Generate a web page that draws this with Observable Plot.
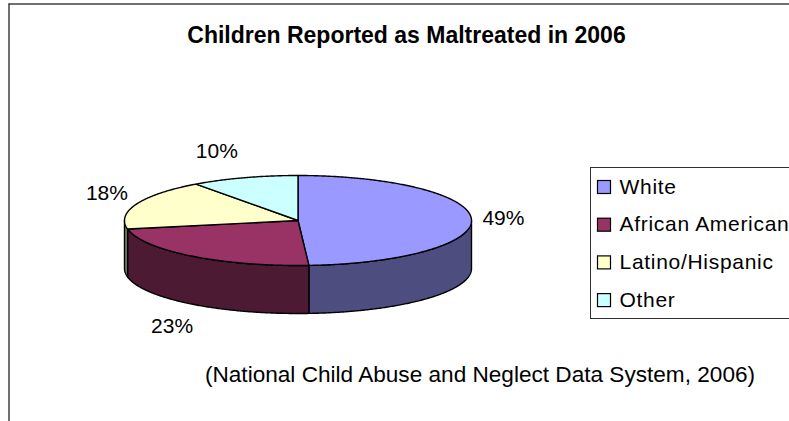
<!DOCTYPE html>
<html>
<head>
<meta charset="utf-8">
<script src="https://cdn.jsdelivr.net/npm/d3@7"></script>
<script src="https://cdn.jsdelivr.net/npm/@observablehq/plot@0.6"></script>
<style>
  html, body { margin: 0; padding: 0; background: #fff; overflow: hidden; }
  #chart svg { display: block; }
  #chart g.legend-text text { letter-spacing: 0.7px; }
</style>
</head>
<body>
<div id="chart"></div>
<script>
// ---- data ----
const categories = ["White", "African American", "Latino/Hispanic", "Other"];
const values = [49, 23, 18, 10];
const labels = ["49%", "23%", "18%", "10%"];
const title = "Children Reported as Maltreated in 2006";
const caption = "(National Child Abuse and Neglect Data System, 2006)";

// ---- style ----
const topColors = ["#9999FF", "#993366", "#FFFFCC", "#CCFFFF"];
const shade = c => { const k = d3.rgb(c); return d3.rgb(k.r * 0.5, k.g * 0.5, k.b * 0.5).formatHex(); };
const W = 789, H = 421;
const font = "'Liberation Sans', Arial, sans-serif";

// ---- 3D pie geometry ----
const cx = 297.5, cy = 220, rx = 173.5, ry = 45, depth = 48;
const total = d3.sum(values);
let acc = 0;
const slices = values.map((v, i) => {
  const a0 = acc / total * 2 * Math.PI; acc += v;
  const a1 = acc / total * 2 * Math.PI;
  return {i, a0, a1, mid: (a0 + a1) / 2};
});
const px = a => cx + rx * Math.sin(a);
const py = a => cy - ry * Math.cos(a);
function arc(a0, a1, dy = 0) {
  const n = Math.max(2, Math.ceil(Math.abs(a1 - a0) / (Math.PI / 360)));
  return d3.range(n + 1).map(k => { const a = a0 + (a1 - a0) * k / n; return {x: px(a), y: py(a) + dy}; });
}

const topPts = slices.flatMap(s => {
  const pts = [{x: cx, y: cy}, ...arc(s.a0, s.a1), {x: cx, y: cy}];
  return pts.map(p => ({...p, key: "top" + s.i, fill: topColors[s.i]}));
});

const sidePts = slices.flatMap(s => {
  const s0 = Math.max(s.a0, Math.PI / 2), s1 = Math.min(s.a1, 3 * Math.PI / 2);
  if (s1 <= s0) return [];
  const pts = [...arc(s0, s1), ...arc(s1, s0, depth)];
  pts.push(pts[0]);
  return pts.map(p => ({...p, key: "side" + s.i, fill: shade(topColors[s.i])}));
});

// labels placed outside each slice along its mid angle
const labelData = slices.map(s => {
  const sin = Math.sin(s.mid), cos = Math.cos(s.mid);
  const front = cos < 0 && Math.abs(sin) < 0.99;
  const back = cos > 0.5;
  return {
    text: labels[s.i],
    x: cx + (rx + 32) * sin + (back ? 60 * sin * cos : 0),
    y: cy - (ry + 28) * cos + (front ? depth : 0)
  };
});

// ---- legend layout ----
const legendRows = categories.map((c, i) => ({c, i, base: 193 + i * 37.7}));

const chart = Plot.plot({
  width: W, height: H,
  margin: 0,
  style: {background: "#fff", fontFamily: font},
  x: {domain: [0, W], range: [0, W], axis: null},
  y: {domain: [0, H], range: [0, H], axis: null},
  color: {type: "identity"},
  marks: [
    Plot.ruleY([3.5], {x1: 8.5, x2: W, stroke: "#404040", strokeWidth: 1.5}),
    Plot.ruleX([8.5], {y1: 3.5, y2: H, stroke: "#404040", strokeWidth: 1.5}),
    Plot.line(sidePts, {x: "x", y: "y", z: "key", fill: "fill", stroke: "black", strokeWidth: 1.4, strokeLinejoin: "round", curve: "linear"}),
    Plot.line(topPts, {x: "x", y: "y", z: "key", fill: "fill", stroke: "black", strokeWidth: 1.4, strokeLinejoin: "round", curve: "linear"}),
    Plot.text(labelData, {x: "x", y: "y", text: "text", fontSize: 21, fill: "black", textAnchor: "middle", lineAnchor: "middle"}),
    Plot.rect([0], {x1: 590.5, x2: W + 20, y1: 167.5, y2: 318.5, fill: "white", stroke: "#303030", strokeWidth: 1, clip: true}),
    Plot.rect(legendRows, {x1: 597.5, x2: 610.5, y1: d => d.base - 12.5, y2: d => d.base + 0.5, fill: d => topColors[d.i], stroke: "black", strokeWidth: 1.2}),
    Plot.text(legendRows, {x: 619, y: "base", text: "c", fontSize: 21, fill: "black", textAnchor: "start", lineAnchor: "bottom", className: "legend-text"}),
    Plot.text([title], {x: 406, y: 42.5, text: d => d, fontSize: 23, fontWeight: "bold", fill: "black", textAnchor: "middle", lineAnchor: "bottom"}),
    Plot.text([caption], {x: 479.5, y: 381, text: d => d, fontSize: 22.6, fill: "black", textAnchor: "middle", lineAnchor: "bottom"})
  ]
});
document.getElementById("chart").append(chart);
</script>
</body>
</html>
